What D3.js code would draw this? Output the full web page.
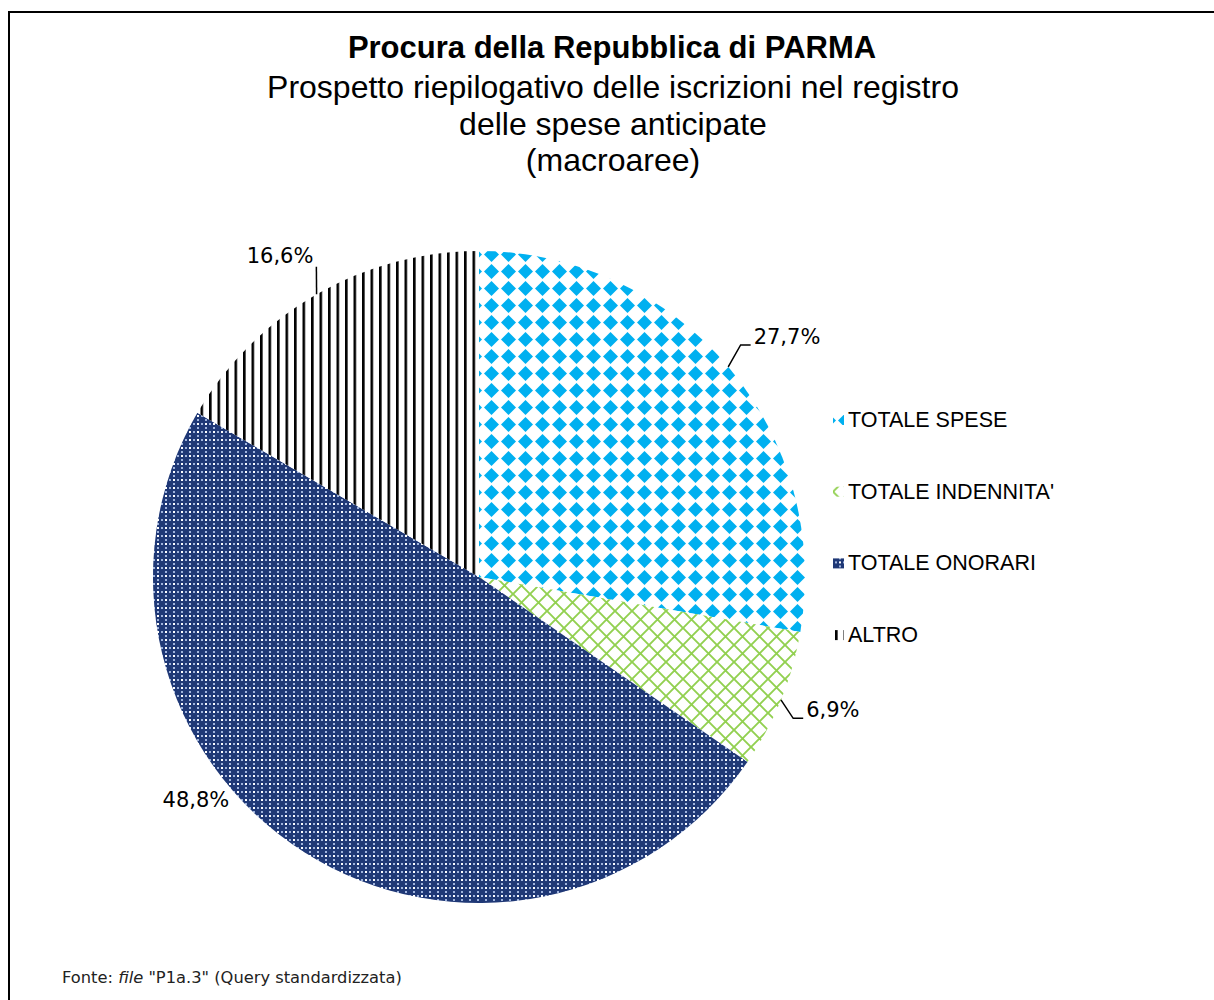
<!DOCTYPE html>
<html>
<head>
<meta charset="utf-8">
<script src="https://cdn.jsdelivr.net/npm/d3@7"></script>
<style>
  body { margin: 0; background: #fff; }
</style>
</head>
<body>
<div id="chart"></div>
<script>
// chart values
const categories = ["TOTALE SPESE", "TOTALE INDENNITA'", "TOTALE ONORARI", "ALTRO"];
const values = [27.7, 6.9, 48.8, 16.6];
const valueLabels = ["27,7%", "6,9%", "48,8%", "16,6%"];
const titleText = "Procura della Repubblica di PARMA";
const subtitleLines = ["Prospetto riepilogativo delle iscrizioni nel registro", "delle spese anticipate", "(macroaree)"];

const W = 1214, H = 1000;
const cx = 479, cy = 577, radius = 326;

// where excel put the data labels (angle shift in degrees, distance factor)
const labelShift = [2.2, -1.5, 19.4, -1.9];
const labelDist = [1.198, 1.16, 1.105, 1.159];
const hasLeader = [true, true, false, true];

const svg = d3.select("#chart").append("svg")
  .attr("width", W)
  .attr("height", H)
  .style("font-family", "'Liberation Sans', Arial, sans-serif");

const defs = svg.append("defs");

// TOTALE SPESE - blue diamonds
var p1 = defs.append("pattern").attr("id", "pat0")
  .attr("patternUnits", "userSpaceOnUse").attr("width", 17).attr("height", 17)
  .attr("x", 480).attr("y", 247);
p1.append("rect").attr("width", 17).attr("height", 17).attr("fill", "#fff");
p1.append("path").attr("d", "M8.5,1 L16,8.5 L8.5,16 L1,8.5 Z").attr("fill", "#00B0F0");

// TOTALE INDENNITA' - green lattice
var p2 = defs.append("pattern").attr("id", "pat1")
  .attr("patternUnits", "userSpaceOnUse").attr("width", 17).attr("height", 17);
p2.append("rect").attr("width", 17).attr("height", 17).attr("fill", "#fff");
p2.append("path").attr("d", "M0,0 L17,17 M17,0 L0,17")
  .attr("stroke", "#92D050").attr("stroke-width", 1.9);

// TOTALE ONORARI - navy crosses with light squares
var p3 = defs.append("pattern").attr("id", "pat2")
  .attr("patternUnits", "userSpaceOnUse").attr("width", 8).attr("height", 8);
p3.append("rect").attr("width", 8).attr("height", 8).attr("fill", "#1F3876");
p3.append("rect").attr("x", 6).attr("y", 6).attr("width", 2).attr("height", 2).attr("fill", "#fff");
p3.append("rect").attr("x", 2).attr("y", 6).attr("width", 2).attr("height", 2).attr("fill", "#9FB3DD");
p3.append("rect").attr("x", 6).attr("y", 2).attr("width", 2).attr("height", 2).attr("fill", "#9FB3DD");

// ALTRO - black vertical lines
var p4 = defs.append("pattern").attr("id", "pat3")
  .attr("patternUnits", "userSpaceOnUse").attr("width", 8.5).attr("height", 10)
  .attr("x", 478);
p4.append("rect").attr("width", 8.5).attr("height", 10).attr("fill", "#fff");
p4.append("rect").attr("x", 0).attr("width", 2.6).attr("height", 10).attr("fill", "#000");

// outer frame
svg.append("rect")
  .attr("x", 9).attr("y", 12)
  .attr("width", W).attr("height", H)
  .attr("fill", "none").attr("stroke", "#000").attr("stroke-width", 2);

// titles
svg.append("text")
  .attr("x", 612).attr("y", 58)
  .attr("text-anchor", "middle")
  .attr("font-weight", "bold")
  .attr("font-size", 31)
  .text(titleText);

svg.selectAll(".sub")
  .data(subtitleLines)
  .join("text")
  .attr("class", "sub")
  .attr("x", 613)
  .attr("y", (d, i) => 98 + i * 36.5)
  .attr("text-anchor", "middle")
  .attr("font-size", 32)
  .text(d => d);

// pie
const pie = d3.pie().sort(null).value(d => d)(values);
const arc = d3.arc().innerRadius(0).outerRadius(radius);

const g = svg.append("g").attr("transform", `translate(${cx},${cy})`);

g.selectAll("path.slice")
  .data(pie)
  .join("path")
  .attr("class", "slice")
  .attr("d", arc)
  .attr("fill", (d, i) => `url(#pat${i})`);

// data labels
function polar(angle, r) {
  return [Math.sin(angle) * r, -Math.cos(angle) * r];
}

pie.forEach(function(d, i) {
  var mid = (d.startAngle + d.endAngle) / 2;
  var la = mid + labelShift[i] * Math.PI / 180;
  var pos = polar(la, radius * labelDist[i]);

  var t = g.append("text")
    .attr("x", pos[0]).attr("y", pos[1])
    .attr("text-anchor", "middle")
    .attr("dominant-baseline", "central")
    .style("font-family", "'DejaVu Sans', Verdana, sans-serif")
    .attr("font-size", 21)
    .attr("fill", "#000")
    .text(valueLabels[i]);

  if (hasLeader[i]) {
    var bb = t.node().getBBox();
    var edge = polar(mid, radius);
    var yb = bb.y + bb.height - 4;
    var pts;
    if (pos[0] > 0) {
      pts = [edge, [bb.x - 13, yb], [bb.x - 3, yb]];
    } else {
      pts = [edge, [bb.x + bb.width + 3, yb + 3]];
    }
    g.append("path")
      .attr("d", d3.line()(pts))
      .attr("fill", "none")
      .attr("stroke", "#000")
      .attr("stroke-width", 1.5);
  }
});

// legend
const legend = svg.append("g").attr("transform", "translate(833,420)");
const li = legend.selectAll("g")
  .data(categories)
  .join("g")
  .attr("transform", (d, i) => `translate(0,${i * 71.7})`);

li.append("rect")
  .attr("x", 0).attr("y", -5)
  .attr("width", 11).attr("height", 10)
  .attr("fill", (d, i) => `url(#pat${i})`);

li.append("text")
  .attr("x", 15).attr("y", 0)
  .attr("dominant-baseline", "central")
  .attr("font-size", 21.5)
  .text(d => d);

// footnote
const foot = svg.append("text")
  .attr("x", 62).attr("y", 983)
  .style("font-family", "'DejaVu Sans', Verdana, sans-serif")
  .attr("font-size", 16.3)
  .attr("fill", "#222");
foot.append("tspan").text("Fonte: ");
foot.append("tspan").attr("font-style", "italic").text("file");
foot.append("tspan").text(" \"P1a.3\" (Query standardizzata)");
</script>
</body>
</html>
